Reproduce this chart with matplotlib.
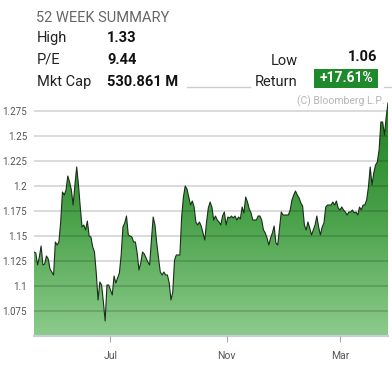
# %% Import modules
import numpy as np
import pandas as pd
import matplotlib
matplotlib.use('Agg')
import matplotlib.pyplot as plt
import matplotlib.dates as mdates
from matplotlib.colors import LinearSegmentedColormap
from matplotlib.lines import Line2D
from matplotlib.patches import Rectangle

plt.rcParams['font.family'] = ['Roboto', 'DejaVu Sans']

# %% Data
price = [
    1.134, 1.133, 1.121, 1.129, 1.140, 1.121, 1.122, 1.130, 1.127, 1.117,
    1.114, 1.111, 1.144, 1.141, 1.144, 1.164, 1.194, 1.191, 1.196, 1.210,
    1.204, 1.196, 1.181, 1.201, 1.219, 1.201, 1.179, 1.159, 1.161, 1.156,
    1.165, 1.150, 1.149, 1.139, 1.134, 1.113, 1.086, 1.104, 1.101, 1.084,
    1.065, 1.101, 1.101, 1.096, 1.091, 1.110, 1.103, 1.108, 1.113, 1.131,
    1.159, 1.163, 1.170, 1.151, 1.150, 1.149, 1.144, 1.144, 1.133, 1.116,
    1.123, 1.134, 1.132, 1.128, 1.124, 1.121, 1.146, 1.169, 1.161, 1.143,
    1.128, 1.114, 1.111, 1.114, 1.111, 1.111, 1.103, 1.086, 1.094, 1.126,
    1.131, 1.131, 1.131, 1.169, 1.189, 1.200, 1.197, 1.189, 1.181, 1.185,
    1.179, 1.164, 1.161, 1.164, 1.160, 1.153,
    1.146, 1.164, 1.178, 1.184, 1.179, 1.166, 1.170, 1.166, 1.164, 1.161,
    1.170, 1.174, 1.161, 1.169, 1.168, 1.170, 1.168, 1.170, 1.166, 1.169,
    1.167, 1.179, 1.173, 1.189, 1.184, 1.177, 1.173, 1.166, 1.166, 1.166,
    1.170, 1.170, 1.166, 1.156, 1.153, 1.148, 1.141, 1.148, 1.153, 1.160,
    1.143, 1.141, 1.158, 1.174, 1.171, 1.171, 1.171, 1.171, 1.176, 1.186,
    1.191, 1.195, 1.191, 1.188, 1.183, 1.180, 1.161, 1.156, 1.164, 1.158,
    1.151, 1.156, 1.161, 1.170, 1.159, 1.151, 1.159, 1.163, 1.179, 1.181,
    1.181, 1.181, 1.184, 1.181, 1.185, 1.178, 1.176, 1.179, 1.176, 1.174,
    1.171, 1.174, 1.174, 1.176, 1.173, 1.174, 1.171, 1.179, 1.176, 1.181,
    1.181, 1.186, 1.199, 1.219, 1.201, 1.213, 1.221, 1.224, 1.236, 1.264,
    1.264, 1.251, 1.269, 1.283,
]
dates = pd.date_range('2014-04-11', '2015-04-21', periods=len(price))

y_ticks = [1.075, 1.1, 1.125, 1.15, 1.175, 1.2, 1.225, 1.25, 1.275]
y_labels = ['1.075', '1.1', '1.125', '1.15', '1.175', '1.2', '1.225', '1.25', '1.275']

summary_labels = ['High', 'P/E', 'Mkt Cap']
summary_values = ['1.33', '9.44', '530.861 M']
low_value = '1.06'
return_value = '+17.61%'

# %% Figure
W, H = 392, 366
fig = plt.figure(figsize=(W / 100, H / 100), dpi=100)


def fx(px):
    return px / W


def fy(py):
    return 1 - py / H


ax = fig.add_axes([fx(34), 30 / H, 354 / W, 235 / H])
x = mdates.date2num(dates)
ymin, ymax = 1.05, 1.285
ax.set_xlim(x[0], x[-1])
ax.set_ylim(ymin, ymax)

# gradient fill under the line
fill = ax.fill_between(x, price, ymin, color='none', lw=0)
grad = np.linspace(0, 1, 256).reshape(-1, 1)
cmap = LinearSegmentedColormap.from_list('g', ['#8ccb8c', '#4aa24a', '#21801f'])
img = ax.imshow(grad, extent=[x[0], x[-1], ymin, ymax], origin='lower',
                aspect='auto', cmap=cmap, zorder=1, interpolation='bilinear')
img.set_clip_path(fill.get_paths()[0], transform=ax.transData)
ax.plot(x, price, color='#1b2e1b', lw=0.8, zorder=4)

# grid & axes
ax.set_yticks(y_ticks)
ax.set_yticklabels(y_labels)
ax.set_axisbelow(False)
ax.grid(axis='y', color='black', alpha=0.17, lw=1.2)
ax.grid(axis='x', visible=False)
for s in ['top', 'right', 'left']:
    ax.spines[s].set_visible(False)
ax.spines['bottom'].set_color('#c5cfd6')
ax.spines['bottom'].set_linewidth(1.5)
ax.xaxis.set_major_locator(mdates.MonthLocator(bymonth=(3, 7, 11)))
ax.xaxis.set_major_formatter(mdates.DateFormatter('%b'))
ax.tick_params(axis='x', length=4, color='#aaaaaa', labelsize=7.5,
               labelcolor='#555555', pad=7)
ax.tick_params(axis='y', length=0, labelsize=7, labelcolor='#555555', pad=5)

# %% Header
fig.text(fx(36), fy(18), '52 WEEK SUMMARY', ha='left', va='center',
         color='#666666', fontsize=10.5)
for i, (lab, val) in enumerate(zip(summary_labels, summary_values)):
    yy = fy(38 + i * 22)
    fig.text(fx(37), yy, lab, ha='left', va='center', color='#222222', fontsize=10.5)
    fig.text(fx(107), yy, val, ha='left', va='center', color='#111111',
             fontsize=10.5, fontweight='bold')

fig.text(fx(298), fy(61), 'Low', ha='right', va='center', color='#222222', fontsize=10.5)
fig.text(fx(377), fy(57), low_value, ha='right', va='center', color='#111111',
         fontsize=10.5, fontweight='bold')
fig.text(fx(298), fy(82), 'Return', ha='right', va='center', color='#222222', fontsize=10.5)
fig.add_artist(Rectangle((fx(314), fy(88)), (378 - 314) / W, 19 / H,
                         transform=fig.transFigure, facecolor='#1f8a2c', edgecolor='none'))
fig.text(fx(346), fy(78.5), return_value, ha='center', va='center', color='white',
         fontsize=10, fontweight='bold')

fig.add_artist(Line2D([fx(187), fx(250)], [fy(87), fy(87)], color='#cccccc', lw=1))
fig.add_artist(Line2D([fx(384), fx(392)], [fy(87), fy(87)], color='#cccccc', lw=1))

fig.text(fx(385), fy(101), '(C) Bloomberg L.P.', ha='right', va='center',
         color='#b5b5b5', fontsize=7.5)

fig.savefig('out.png', dpi=100)
